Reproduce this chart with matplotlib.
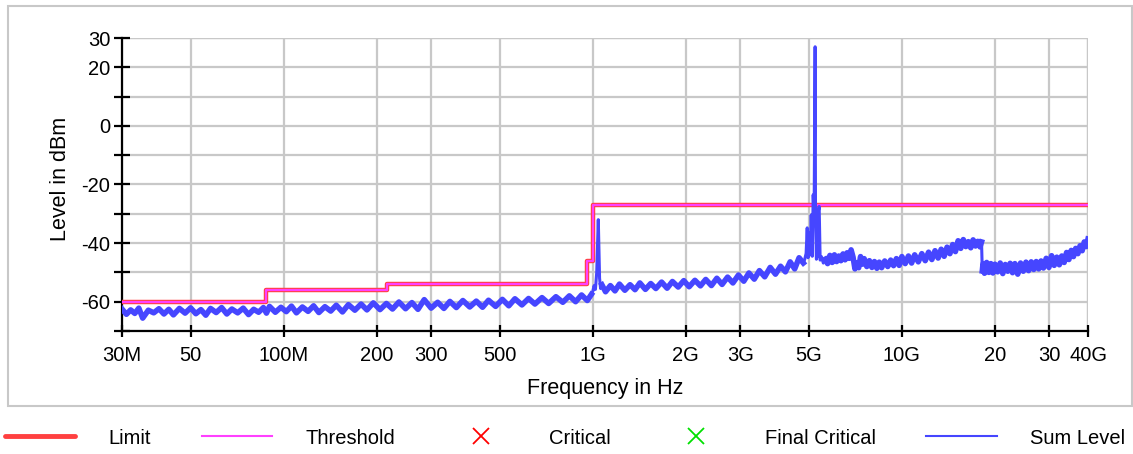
import matplotlib
matplotlib.use("Agg")
import matplotlib.pyplot as plt
from matplotlib.lines import Line2D
from matplotlib.patches import Rectangle
import numpy as np

plt.rcParams['font.family'] = ['Liberation Sans', 'DejaVu Sans']
plt.rcParams['axes.unicode_minus'] = False

### limit / threshold steps (MHz, dBm)
limit_freq = [30, 87.5, 87.5, 216, 216, 957, 957, 1000, 1000, 40000]
limit_level = [-60, -60, -56, -56, -54, -54, -46, -46, -27, -27]

### sum level trace (MHz, dBm)
sum_freq_a = [30, 31, 32, 33, 34, 35, 36.5, 38, 39.5, 41, 42.5, 44, 46, 48, 50, 52, 54, 56, 58,
              60.5, 63, 65.5, 68, 71, 74, 77, 80, 83, 86, 88]
sum_level_a = [-62.5, -64.3, -62.8, -64.0, -62.2, -65.6, -62.9, -63.8, -62.4, -64.2, -62.6, -64.5,
               -62.3, -63.9, -62.1, -64.1, -62.7, -64.6, -62.3, -63.7, -62.0, -64.2, -62.5, -63.8,
               -62.2, -64.4, -62.6, -63.6, -62.0, -63.9]

sum_freq_b = [90, 94, 98, 102, 106, 110, 115, 120, 125, 130, 136, 142, 148, 155, 162, 170, 178,
              186, 195, 205, 215, 225, 236, 248, 260, 272, 285, 300, 315, 330, 345, 362, 380,
              400, 420, 440, 460, 485, 510, 535, 560, 590, 620, 650, 685, 720, 760, 800, 840,
              880, 920, 960, 990]
sum_level_b = [-61.6, -63.6, -61.9, -63.4, -61.5, -63.8, -61.8, -63.3, -61.4, -63.7, -61.7, -63.2,
               -61.2, -63.5, -61.0, -62.9, -60.8, -62.8, -60.4, -62.7, -60.6, -62.5, -60.1, -62.4,
               -60.3, -62.6, -59.3, -62.2, -60.2, -62.3, -59.9, -62.0, -59.6, -61.8, -59.8, -61.9,
               -59.5, -61.6, -59.2, -61.4, -59.0, -61.1, -58.9, -60.8, -58.6, -60.6, -58.3, -60.2,
               -58.0, -60.0, -57.7, -59.6, -57.5]

### 1 GHz spike
sum_freq_s1 = [1000, 1010, 1020, 1030, 1038, 1042, 1046, 1052, 1060]
sum_level_s1 = [-56.5, -54.5, -55.8, -50.0, -38.0, -32.0, -40.0, -52.0, -55.5]

sum_freq_c = [1070, 1100, 1140, 1180, 1220, 1270, 1320, 1370, 1420, 1480, 1540, 1600, 1670, 1740,
              1810, 1890, 1970, 2050, 2140, 2230, 2320, 2420, 2520, 2620, 2730, 2840, 2960, 3080,
              3200, 3330, 3460, 3600, 3750, 3900, 4050, 4200, 4350, 4500, 4650, 4800]
sum_level_c = [-54.2, -56.6, -54.5, -56.3, -54.0, -56.1, -54.2, -55.9, -53.6, -55.8, -53.8, -55.5,
               -53.3, -55.4, -53.1, -55.0, -52.8, -54.9, -52.7, -54.6, -52.4, -54.5, -52.0, -54.1,
               -51.6, -53.6, -50.9, -53.0, -50.2, -52.3, -49.4, -51.5, -48.3, -50.6, -47.9, -49.8,
               -46.4, -48.8, -45.0, -46.8]

### 5 GHz spike
sum_freq_s2 = [4850, 4900, 4940, 4970, 5010, 5050, 5090, 5130, 5165, 5200, 5240, 5255, 5290,
               5330, 5370, 5400, 5440, 5490, 5570]
sum_level_s2 = [-45.5, -43.5, -34.8, -45.0, -36.5, -44.0, -30.4, -44.5, -23.5, -31.0, 27.0, -30.0,
                -45.5, -44.5, -29.0, -27.5, -45.8, -44.6, -46.8]

sum_freq_e = [5650, 5750, 5850, 5950, 6050, 6150, 6250, 6350, 6450, 6550, 6650, 6750, 6850, 6950,
              7050, 7150, 7250, 7350, 7450, 7550, 7700, 7850, 8000, 8150, 8300, 8450, 8600, 8800,
              9000, 9200, 9400, 9600, 9800, 10000, 10250, 10500, 10750, 11000, 11300, 11600,
              11900, 12200, 12500, 12800, 13100, 13400, 13700, 14000, 14300, 14600, 14900, 15200,
              15500, 15800, 16100, 16400, 16700, 17000, 17300, 17600, 17900, 18100]
sum_level_e = [-45.5, -47.0, -44.2, -46.6, -44.0, -46.3, -44.4, -46.0, -43.7, -45.7, -43.3, -45.2,
               -42.3, -44.8, -48.8, -46.7, -48.4, -44.6, -47.2, -45.3, -48.0, -46.0, -48.3, -46.3,
               -48.6, -46.5, -48.4, -46.1, -48.0, -45.8, -47.7, -45.3, -47.6, -44.6, -47.0, -44.4,
               -46.8, -44.0, -46.4, -43.6, -46.0, -43.1, -45.6, -42.6, -45.1, -42.1, -44.5, -41.4,
               -43.6, -40.5, -42.9, -39.2, -41.8, -38.8, -41.2, -39.5, -41.6, -38.9, -41.0, -39.4,
               -41.3, -39.6]

sum_freq_f = [18200, 18300, 18500, 18800, 19100, 19400, 19700, 20000, 20400, 20800, 21200, 21600,
              22000, 22400, 22800, 23200, 23700, 24200, 24700, 25200, 25700, 26200, 26700, 27200,
              27700, 28200, 28700, 29300, 29900, 30500, 31100, 31700, 32300, 32900, 33500, 34100,
              34700, 35300, 35900, 36500, 37100, 37700, 38300, 38900, 39500, 40000]
sum_level_f = [-49.5, -47.0, -50.3, -46.6, -50.0, -47.0, -50.2, -47.2, -49.8, -46.8, -50.4, -47.3,
               -49.6, -46.9, -50.1, -47.0, -50.6, -46.8, -49.6, -46.5, -49.4, -46.4, -49.0, -46.3,
               -48.8, -46.1, -48.5, -45.2, -48.3, -44.3, -47.6, -44.8, -47.4, -44.4, -46.6, -43.2,
               -45.6, -42.5, -44.6, -41.8, -43.6, -40.9, -42.6, -39.6, -41.2, -38.6]

x_ticks = [30e6, 50e6, 100e6, 200e6, 300e6, 500e6, 1e9, 2e9, 3e9, 5e9, 10e9, 20e9, 30e9, 40e9]
x_labels = ['30M', '50', '100M', '200', '300', '500', '1G', '2G', '3G', '5G', '10G', '20', '30', '40G']
y_ticks = [-70, -60, -50, -40, -30, -20, -10, 0, 10, 20, 30]
y_labels = ['', '-60', '', '-40', '', '-20', '', '0', '', '20', '30']

sum_freq = np.array(sum_freq_a + sum_freq_b + sum_freq_s1 + sum_freq_c + sum_freq_s2
                    + sum_freq_e + sum_freq_f) * 1e6
sum_level = np.array(sum_level_a + sum_level_b + sum_level_s1 + sum_level_c + sum_level_s2
                     + sum_level_e + sum_level_f)

fig = plt.figure(figsize=(11.33, 4.54), dpi=100)
fig.patches.append(Rectangle((8 / 1133, 1 - 406 / 454), 1124 / 1133, 400 / 454,
                             transform=fig.transFigure, fill=False,
                             edgecolor='#c8c8c8', linewidth=1.5))
ax = fig.add_axes([122 / 1133, 1 - 331 / 454, 966 / 1133, 293 / 454])

grey = '#c8c8c8'
blue = '#4646ff'
ax.set_xscale('log')
ax.set_xlim(30e6, 40e9)
ax.set_ylim(-70, 30)

ax.plot(np.array(limit_freq) * 1e6, limit_level, color='#ff4040', lw=3.2, zorder=3)
ax.plot(np.array(limit_freq) * 1e6, limit_level, color='#ff40ff', lw=1.6, zorder=4)
### whole trace thin, noisy parts drawn again thicker (noise band)
ax.plot(sum_freq, sum_level, color=blue, lw=2.2, zorder=5)
for fr, lv in [(sum_freq_a + sum_freq_b, sum_level_a + sum_level_b),
               (sum_freq_c, sum_level_c), (sum_freq_e, sum_level_e), (sum_freq_f, sum_level_f)]:
    ax.plot(np.array(fr) * 1e6, lv, color=blue, lw=4.0, zorder=5)

ax.set_xticks(x_ticks)
ax.set_xticklabels(x_labels)
ax.xaxis.set_minor_locator(matplotlib.ticker.NullLocator())
ax.set_yticks(y_ticks)
ax.set_yticklabels(y_labels)
ax.grid(True, color=grey, lw=1.6)
ax.set_axisbelow(True)
for s in ['top', 'right']:
    ax.spines[s].set_visible(False)
for s in ['left', 'bottom']:
    ax.spines[s].set_linewidth(1.6)
ax.tick_params(axis='both', direction='inout', width=1.6, labelsize=14.5)
ax.tick_params(axis='x', length=8, pad=7)
ax.tick_params(axis='y', length=11, pad=3)

### right and top grid edges in grey
ax.axvline(40e9, color=grey, lw=1.6, zorder=0)
ax.axhline(30, color=grey, lw=1.6, zorder=0)

ax.set_xlabel('Frequency in Hz', fontsize=15.5)
ax.xaxis.set_label_coords(0.5, -0.16)
ax.set_ylabel('Level in dBm', fontsize=15.5)
ax.yaxis.set_label_coords(-0.053, 0.52)

### legend
handles = [
    Line2D([], [], color='#ff4040', lw=3.5, solid_capstyle='round'),
    Line2D([], [], color='#ff40ff', lw=1.5),
    Line2D([], [], color='#ff0000', lw=0, marker='x', markersize=11, markeredgewidth=1.3),
    Line2D([], [], color='#00e000', lw=0, marker='x', markersize=11, markeredgewidth=1.3),
    Line2D([], [], color=blue, lw=1.5),
]
labels = ['Limit', 'Threshold', 'Critical', 'Final Critical', 'Sum Level']
fig.legend(handles, labels, loc='center left', bbox_to_anchor=(5 / 1133, 1 - 438 / 454),
           ncol=5, frameon=False, fontsize=14.5, handlelength=3.5, handletextpad=1.65,
           columnspacing=2.5, borderpad=0, borderaxespad=0)

fig.savefig('out.png', dpi=100)
